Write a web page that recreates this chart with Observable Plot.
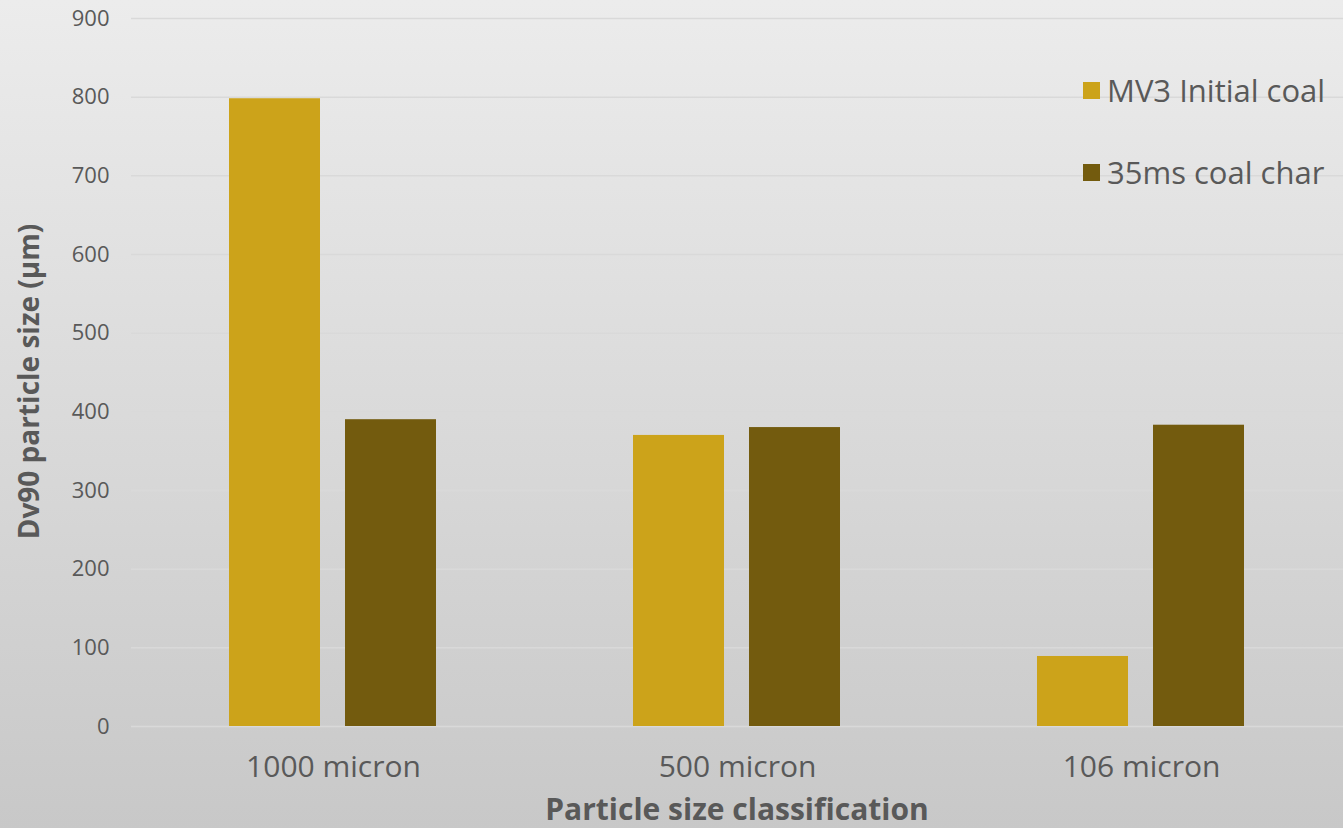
<!DOCTYPE html>
<html>
<head>
<meta charset="utf-8">
<script src="https://cdn.jsdelivr.net/npm/d3@7"></script>
<script src="https://cdn.jsdelivr.net/npm/@observablehq/plot@0.6"></script>
<style>
  html, body { margin: 0; padding: 0; }
  #chart {
    position: relative;
    width: 1343px;
    height: 828px;
    background: linear-gradient(to bottom, #ececec 0%, #c8c8c8 100%);
    font-family: "Open Sans", sans-serif;
    overflow: hidden;
  }
</style>
</head>
<body>
<div id="chart"></div>
<script>
// Particle size classes and the two measured series (Dv90, µm)
const categories = ["1000 micron", "500 micron", "106 micron"];
const series = ["MV3 Initial coal", "35ms coal char"];
const initialCoal = [798, 370, 89];
const coalChar = [390, 380, 383];
const yTicks = [0, 100, 200, 300, 400, 500, 600, 700, 800, 900];
const seriesColors = ["#CCA31A", "#735B0E"];

const rows = categories.flatMap((category, i) => [
  { category, series: series[0], value: initialCoal[i] },
  { category, series: series[1], value: coalChar[i] }
]);

const textColor = "#595959";

const plot = Plot.plot({
  width: 1343,
  height: 828,
  marginTop: 18,
  marginBottom: 102,
  marginLeft: 130,
  marginRight: 0,
  style: { background: "transparent", fontFamily: "'Open Sans', sans-serif", color: textColor },
  fx: { domain: categories, padding: 0, label: null },
  x: { domain: series, paddingInner: 0.2155, paddingOuter: 0.849, axis: null },
  y: { domain: [0, 900], label: null },
  color: { domain: series, range: seriesColors },
  marks: [
    Plot.gridY(yTicks, { stroke: "#d9d9d9", strokeOpacity: 1, strokeWidth: 1.5 }),
    Plot.barY(rows, { fx: "category", x: "series", y: "value", fill: "series" }),
    Plot.axisY(yTicks, { tickSize: 0, tickPadding: 22, fontSize: 22, label: null, fill: textColor }),
    Plot.axisFx({ anchor: "bottom", tickSize: 0, tickPadding: 29, fontSize: 30, label: null, fill: textColor })
  ]
});

document.getElementById("chart").appendChild(plot);

const svg = d3.select(plot);

// Axis titles
svg.append("text")
  .attr("transform", "translate(39,381.5) rotate(-90)")
  .attr("text-anchor", "middle")
  .attr("font-size", 28)
  .attr("font-weight", "bold")
  .attr("fill", textColor)
  .text("Dv90 particle size (µm)");

svg.append("text")
  .attr("x", 737)
  .attr("y", 820)
  .attr("text-anchor", "middle")
  .attr("font-size", 30)
  .attr("font-weight", "bold")
  .attr("fill", textColor)
  .text("Particle size classification");

// Legend, stacked vertically at the top right
const color = plot.scale("color");
const legend = svg.append("g").attr("transform", "translate(1083,82)");
series.forEach((name, i) => {
  const g = legend.append("g").attr("transform", `translate(0,${i * 82})`);
  g.append("rect").attr("width", 17).attr("height", 17).attr("fill", color.range[color.domain.indexOf(name)]);
  g.append("text")
    .attr("x", 24)
    .attr("y", 20)
    .attr("text-anchor", "start")
    .attr("font-size", 31)
    .attr("fill", textColor)
    .text(name);
});
</script>
</body>
</html>
